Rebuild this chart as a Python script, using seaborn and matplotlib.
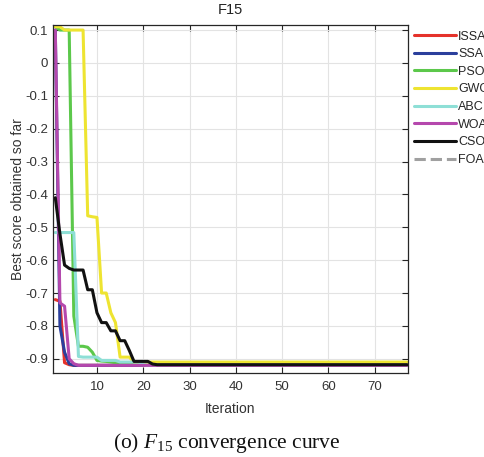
import matplotlib
matplotlib.use("Agg")
import matplotlib.pyplot as plt
import seaborn as sns
import numpy as np
import pandas as pd

# ---- data ----
iterations = list(range(1, 78))
ISSA = [-0.72, -0.725, -0.912, -0.918] + [-0.92] * 73
SSA = [0.10, -0.80, -0.88, -0.915] + [-0.92] * 73
PSO = [0.11, 0.10, 0.10, 0.10, -0.77, -0.862, -0.862, -0.865, -0.88, -0.905,
       -0.907, -0.908, -0.91, -0.912, -0.914, -0.915, -0.916, -0.917, -0.918, -0.919] + [-0.92] * 57
GWO = [0.11, 0.11, 0.10, 0.10, 0.10, 0.10, 0.10, -0.465, -0.468, -0.47,
       -0.70, -0.70, -0.76, -0.79, -0.895, -0.895, -0.895, -0.91] + [-0.91] * 59
ABC = [-0.516] * 5 + [-0.893, -0.895, -0.895, -0.895, -0.895, -0.905, -0.905, -0.905, -0.905,
                      -0.91, -0.91, -0.91, -0.91, -0.91, -0.918] + [-0.92] * 57
WOA = [0.10, -0.73, -0.74, -0.90, -0.915] + [-0.92] * 72
CSO = [-0.41, -0.52, -0.615, -0.625, -0.63, -0.63, -0.63, -0.69, -0.69, -0.76,
       -0.79, -0.79, -0.815, -0.815, -0.845, -0.845, -0.875, -0.908, -0.908, -0.908,
       -0.908, -0.916] + [-0.918] * 55
FOA = [0.35] * 77

names = ["ISSA", "SSA", "PSO", "GWO", "ABC", "WOA", "CSO", "FOA"]
series = [ISSA, SSA, PSO, GWO, ABC, WOA, CSO, FOA]
colors = ["#E5322B", "#2B3F9C", "#5CC84B", "#EEE431", "#8EDFD6", "#B548AD", "#111111", "#A0A0A0"]
styles = ["-", "-", "-", "-", "-", "-", "-", "--"]

yticks = [0.1, 0, -0.1, -0.2, -0.3, -0.4, -0.5, -0.6, -0.7, -0.8, -0.9]
xticks = [10, 20, 30, 40, 50, 60, 70]

sns.set_theme(style="white")
plt.rcParams["font.family"] = ["Liberation Sans", "DejaVu Sans"]
plt.rcParams["axes.unicode_minus"] = False
plt.rcParams["mathtext.fontset"] = "custom"
plt.rcParams["mathtext.rm"] = "Liberation Serif"
plt.rcParams["mathtext.it"] = "Liberation Serif:italic"

fig = plt.figure(figsize=(4.84, 4.57), dpi=100)
ax = fig.add_axes([0.109, 0.184, 0.734, 0.761])

for name, vals, c, ls in zip(names, series, colors, styles):
    df = pd.DataFrame({"Iteration": iterations, "score": vals})
    sns.lineplot(data=df, x="Iteration", y="score", ax=ax, color=c, lw=2.2,
                 linestyle=ls, label=name)

ax.set_xlim(0.45, 77.2)
ax.set_ylim(-0.943, 0.115)
ax.set_xticks(xticks)
ax.set_yticks(yticks)
ax.set_yticklabels([("%g" % v) for v in yticks])
ax.grid(True, color="#E3E3E3", lw=0.8)
for s in ax.spines.values():
    s.set_color("#262626")
    s.set_linewidth(0.9)
ax.tick_params(direction="in", length=4, width=0.8, colors="#262626",
               labelcolor="#333333", labelsize=9.5, top=True, right=True,
               bottom=True, left=True)
ax.tick_params(axis="x", pad=6)
ax.set_xlabel("Iteration", fontsize=10, color="#333333", labelpad=6)
ax.set_ylabel("Best score obtained so far", fontsize=10, color="#333333", labelpad=0)
ax.set_title("F15", fontsize=10.5, color="#222222", pad=8)

ax.legend_.remove()
handles, labels = ax.get_legend_handles_labels()
fig.legend(handles, labels, loc="upper left", bbox_to_anchor=(0.856, 0.933),
           frameon=False, fontsize=9, handlelength=3.3, handletextpad=0.2,
           labelspacing=0.45, borderpad=0, borderaxespad=0)

fig.text(0.469, 0.031, r"(o) $F_{15}$ convergence curve", fontsize=15.5,
         family="Liberation Serif", ha="center", va="center", color="#111111")

fig.savefig("out.png", dpi=100)
